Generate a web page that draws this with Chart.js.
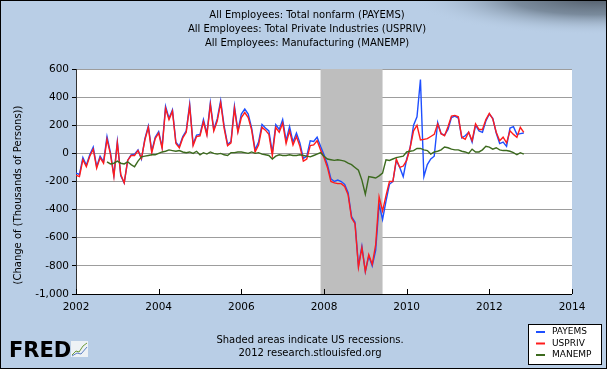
<!DOCTYPE html>
<html>
<head>
<meta charset="utf-8">
<title>All Employees - monthly change</title>
<script src="https://cdn.jsdelivr.net/npm/chart.js@4.4.1/dist/chart.umd.min.js"></script>
<style>
  html, body { margin: 0; padding: 0; background: #b9cee6; }
  #chart { display: block; }
</style>
</head>
<body>
<canvas id="chart" width="607" height="369"></canvas>
<script>
// monthly change, thousands of persons, Jan 2002 .. Nov 2012
const START_YEAR = 2002;

const payems = [
  -140, -150, -30, -85, -10, 45, -95, -20, -60, 120, 5, -155,
  85, -160, -210, -50, -10, -5, 25, -40, 105, 195, 15, 115,
  155, 45, 335, 250, 310, 80, 50, 120, 160, 350, 65, 130,
  135, 240, 140, 360, 170, 245, 375, 195, 65, 85, 335, 160,
  280, 315, 280, 180, 25, 80, 205, 180, 160, 5, 205, 170,
  240, 90, 190, 80, 145, 75, -35, -20, 90, 85, 115, 50,
  -10, -80, -180, -200, -190, -200, -220, -280, -450, -490, -800, -660,
  -840, -730, -800, -690, -360, -470, -340, -220, -200, -50, -100, -165,
  -40, 40, 200, 260, 525, -165, -80, -40, -20, 220, 140, 130,
  170, 255, 265, 250, 110, 125, 150, 80, 200, 160, 150, 230,
  280, 250, 145, 70, 80, 50, 180, 190, 135, 140, 145
];

const uspriv = [
  -155, -165, -45, -95, -20, 30, -105, -30, -70, 100, -5, -165,
  75, -150, -210, -50, -15, -15, 20, -35, 95, 185, 5, 105,
  145, 35, 320, 240, 300, 70, 40, 110, 150, 335, 55, 120,
  125, 225, 130, 345, 160, 230, 360, 180, 55, 75, 320, 150,
  255, 290, 255, 165, 10, 60, 185, 165, 135, -15, 185, 150,
  215, 70, 160, 60, 120, 50, -55, -40, 55, 60, 90, 25,
  -30, -100, -200, -210, -215, -215, -235, -295, -460, -500, -810, -670,
  -840, -720, -790, -650, -310, -410, -300, -200, -200, -40, -100, -90,
  -50, 40, 160, 200, 95, 100, 105, 120, 135, 210, 140, 125,
  190, 265, 270, 260, 115, 100, 150, 90, 210, 170, 170, 240,
  285, 245, 150, 90, 115, 75, 160, 135, 115, 185, 150
];

// manufacturing line only starts in Oct 2002 on the graph
const manemp = [
  null, null, null, null, null, null, null, null, null, -60, -75, -70,
  -55, -70, -75, -60, -80, -95, -55, -25, -20, -15, -10, -10,
  0, 10, 15, 25, 20, 15, 20, 10, 5, 10, 0, 15,
  -10, 5, -5, 10, 0, -5, 0, -10, -15, 5, 5, 10,
  10, 5, 0, 10, 0, 5, -5, -10, -15, -40, -20, -10,
  -15, -15, -10, -15, -15, -10, -15, -20, -25, -15, -5, 5,
  -20, -40, -45, -50, -45, -50, -55, -70, -80, -100, -120, -190,
  -290, -165, -170, -175, -160, -140, -45, -50, -40, -30, -25, -20,
  10, 15, 20, 35, 35, 25, 20, -5, 10, 15, 25, 45,
  40, 30, 25, 25, 15, 10, 0, 30, 10, 10, 25, 50,
  45, 30, 40, 25, 20, 20, 15, 5, -10, 5, -5
];

const xTicks = [2002, 2004, 2006, 2008, 2010, 2012, 2014];
const yTicks = [-1000, -800, -600, -400, -200, 0, 200, 400, 600];
const recession = [2007 + 11 / 12, 2009 + 5 / 12];

const seriesNames = ['PAYEMS', 'USPRIV', 'MANEMP'];
const seriesColors = ['#1e4fff', '#ff1c1c', '#3c6a1e'];

const titleLines = [
  'All Employees: Total nonfarm (PAYEMS)',
  'All Employees: Total Private Industries (USPRIV)',
  'All Employees: Manufacturing (MANEMP)'
];
const yLabel = '(Change of (Thousands of Persons))';
const footerLines = ['Shaded areas indicate US recessions.', '2012 research.stlouisfed.org'];

const FONT = '"DejaVu Sans", Verdana, sans-serif';

function toPoints(values) {
  return values.map((v, i) => ({ x: START_YEAR + i / 12, y: v }));
}

const fredFrame = {
  id: 'fredFrame',
  beforeDraw(chart) {
    const { ctx, chartArea: a } = chart;
    ctx.save();
    ctx.fillStyle = '#b9cee6';
    ctx.fillRect(0, 0, chart.width, chart.height);

    // dark smudge in the top right corner
    ctx.setTransform(1, 0, 0, 0.2, 0, 0);
    const g = ctx.createRadialGradient(595, -10, 0, 595, -10, 185);
    g.addColorStop(0, 'rgba(75,85,97,0.95)');
    g.addColorStop(0.45, 'rgba(95,110,125,0.7)');
    g.addColorStop(1, 'rgba(185,206,230,0)');
    ctx.fillStyle = g;
    ctx.fillRect(400, 0, 207, 260);
    ctx.setTransform(1, 0, 0, 1, 0, 0);

    ctx.fillStyle = '#ffffff';
    ctx.fillRect(a.left, a.top, a.right - a.left, a.bottom - a.top);
    ctx.restore();
  },
  beforeDatasetsDraw(chart) {
    const { ctx, chartArea: a, scales: { x } } = chart;
    ctx.save();
    const x0 = x.getPixelForValue(recession[0]);
    const x1 = x.getPixelForValue(recession[1]);
    ctx.fillStyle = '#bebebe';
    ctx.fillRect(x0, a.top, x1 - x0, a.bottom - a.top);

    // x ticks point up into the plot
    ctx.strokeStyle = '#000';
    ctx.lineWidth = 1;
    ctx.beginPath();
    xTicks.forEach(v => {
      const px = Math.round(x.getPixelForValue(v)) + 0.5;
      ctx.moveTo(px, a.bottom - 5);
      ctx.lineTo(px, a.bottom);
    });
    ctx.moveTo(a.left, a.bottom + 0.5);
    ctx.lineTo(a.right, a.bottom + 0.5);
    ctx.stroke();
    ctx.restore();
  },
  afterDraw(chart) {
    const { ctx } = chart;
    ctx.save();
    ctx.fillStyle = '#000';
    ctx.textAlign = 'center';
    ctx.textBaseline = 'middle';
    ctx.font = '10px ' + FONT;
    titleLines.forEach((t, i) => ctx.fillText(t, 307, 15 + i * 14.3));
    footerLines.forEach((t, i) => ctx.fillText(t, 310, 340 + i * 13.5));

    ctx.save();
    ctx.translate(18, 195);
    ctx.rotate(-Math.PI / 2);
    ctx.fillText(yLabel, 0, 0);
    ctx.restore();

    // FRED logo
    ctx.textAlign = 'left';
    ctx.textBaseline = 'alphabetic';
    ctx.font = 'bold 21px ' + FONT;
    ctx.fillText('FRED', 9, 357);
    ctx.fillStyle = '#eef2f5';
    ctx.fillRect(71, 341, 17, 16);
    ctx.lineWidth = 1;
    ctx.strokeStyle = '#6d9a3a';
    ctx.beginPath();
    ctx.moveTo(72, 355); ctx.lineTo(76, 351); ctx.lineTo(79, 352); ctx.lineTo(83, 346); ctx.lineTo(87, 343);
    ctx.stroke();
    ctx.strokeStyle = '#5b7fc4';
    ctx.beginPath();
    ctx.moveTo(72, 356); ctx.lineTo(77, 353); ctx.lineTo(81, 354); ctx.lineTo(87, 347);
    ctx.stroke();

    // legend
    const lx = 528, ly = 324;
    ctx.fillStyle = '#fff';
    ctx.fillRect(lx, ly, 73, 40);
    ctx.strokeStyle = '#000';
    ctx.strokeRect(lx + 0.5, ly + 0.5, 73, 40);
    ctx.font = '9px ' + FONT;
    ctx.textBaseline = 'middle';
    seriesNames.forEach((name, i) => {
      const y = ly + 8 + i * 11.5;
      ctx.strokeStyle = seriesColors[i];
      ctx.lineWidth = 2;
      ctx.beginPath();
      ctx.moveTo(lx + 8, y);
      ctx.lineTo(lx + 17, y);
      ctx.stroke();
      ctx.fillStyle = '#000';
      ctx.fillText(name, lx + 24, y);
    });

    ctx.strokeStyle = '#000';
    ctx.lineWidth = 1;
    ctx.strokeRect(0.5, 0.5, chart.width - 1, chart.height - 1);
    ctx.restore();
  }
};

const lineStyle = { borderWidth: 1.4, pointRadius: 0, tension: 0, fill: false, spanGaps: false };

new Chart(document.getElementById('chart'), {
  type: 'line',
  data: {
    datasets: [
      { label: seriesNames[0], data: toPoints(payems), borderColor: seriesColors[0], order: 2, ...lineStyle },
      { label: seriesNames[1], data: toPoints(uspriv), borderColor: seriesColors[1], order: 1, ...lineStyle },
      { label: seriesNames[2], data: toPoints(manemp), borderColor: seriesColors[2], order: 0, ...lineStyle }
    ]
  },
  options: {
    responsive: false,
    animation: false,
    devicePixelRatio: 1,
    layout: { padding: { left: 8, top: 69, right: 35, bottom: 51 } },
    plugins: { legend: { display: false }, tooltip: { enabled: false } },
    scales: {
      x: {
        type: 'linear',
        min: xTicks[0],
        max: xTicks[xTicks.length - 1],
        afterBuildTicks: s => { s.ticks = xTicks.map(v => ({ value: v })); },
        afterFit: s => { s.height = 24; },
        grid: { display: false, drawTicks: false, tickLength: 0 },
        border: { display: false },
        ticks: { padding: 7, color: '#000', font: { family: FONT, size: 10.5 }, callback: v => String(v) }
      },
      y: {
        min: yTicks[0],
        max: yTicks[yTicks.length - 1],
        afterBuildTicks: s => { s.ticks = yTicks.map(v => ({ value: v })); },
        afterFit: s => { s.width = 68; },
        grid: { color: '#9d9d9d', lineWidth: 1, tickColor: '#000', tickLength: 4 },
        border: { color: '#333', width: 1 },
        ticks: {
          padding: 3,
          color: '#000',
          font: { family: FONT, size: 10.5 },
          callback: v => v.toLocaleString('en-US')
        }
      }
    }
  },
  plugins: [fredFrame]
});
</script>
</body>
</html>
